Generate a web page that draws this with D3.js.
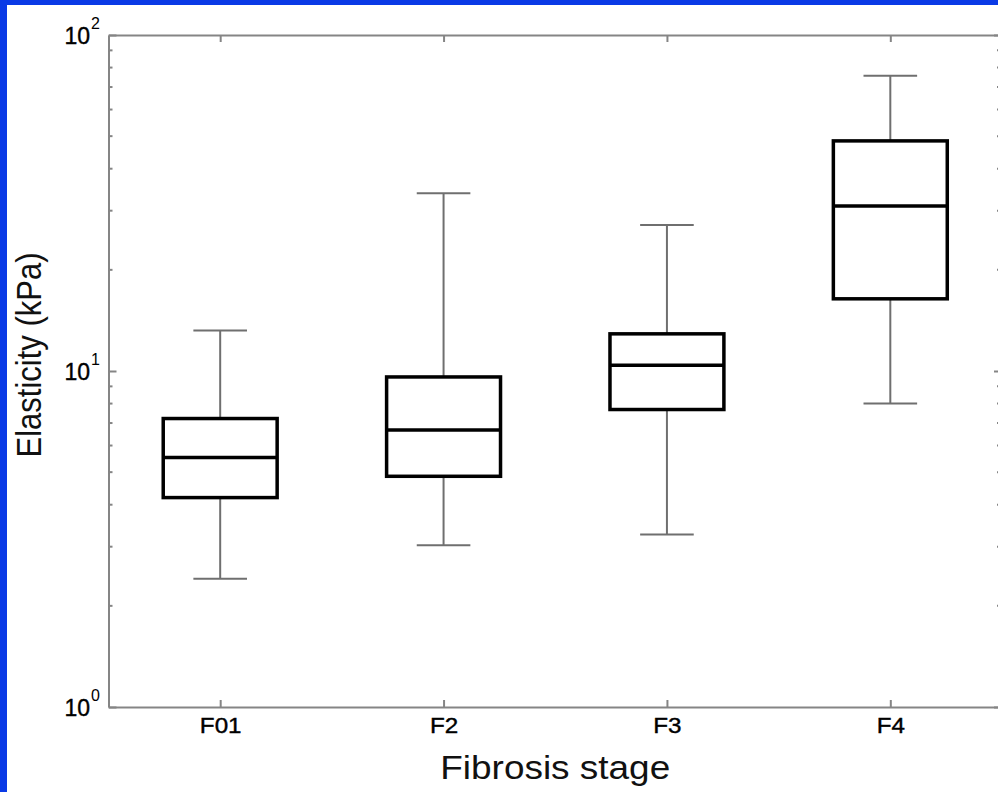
<!DOCTYPE html>
<html lang="en">
<head>
  <meta charset="UTF-8">
  <script src="https://cdn.jsdelivr.net/npm/d3@7"></script>
  <title>Elasticity by fibrosis stage</title>
  <style>
    body { margin: 0; background: #0a3ae6; }
    text { font-family: "Liberation Sans", Arial, sans-serif; fill: #111; }
    .axis path, .axis line { stroke: #858585; stroke-width: 2; }
    .whisker { stroke: #6f6f6f; stroke-width: 2; }
    .box { fill: none; stroke: #000; stroke-width: 3.5; }
    .median { stroke: #000; stroke-width: 3.5; }
    .tk { stroke: #000; stroke-width: 0.4; }
  </style>
</head>
<body>
  <script>
    // values (kPa)
    const stages = ['F01', 'F2', 'F3', 'F4'];
    const lowCap = [2.41, 3.03, 3.26, 8.0];
    const q1 = [4.2, 4.86, 7.68, 16.4];
    const median = [5.53, 6.67, 10.4, 31.0];
    const q3 = [7.22, 9.6, 12.9, 48.4];
    const highCap = [13.2, 33.8, 27.2, 75.6];
    const yTicks = [1, 10, 100];

    const W = 998, H = 792;
    const pLeft = 108.5, pRight = 1002, pTop = 35, pBottom = 707;

    const svg = d3.select('body').append('svg')
      .attr('width', W).attr('height', H)
      .style('display', 'block');

    svg.append('rect').attr('x', 7).attr('y', 5)
      .attr('width', W - 7).attr('height', H - 5).attr('fill', '#fff');

    const x = d3.scalePoint().domain(stages).range([pLeft, pRight]).padding(0.5);
    const y = d3.scaleLog().domain([1, 100]).range([pBottom, pTop]);
    const step = x.step();
    const boxHalf = step * 0.255, capHalf = step * 0.12;

    // minor log ticks 2..9 for each decade
    const minor = [];
    for (let d = 1; d < 100; d *= 10) for (let k = 2; k <= 9; k++) minor.push(d * k);

    // axes: frame
    svg.append('g').attr('class', 'axis').attr('transform', `translate(0,${pBottom})`)
      .call(d3.axisBottom(x).tickSize(-7).tickPadding(10).tickSizeOuter(0))
      .call(g => g.selectAll('text').attr('class', 'tk')
        .style('font-size', '22px').style('fill', '#000')
        .attr('transform', 'scale(1.1,1)'));
    svg.append('g').attr('class', 'axis').attr('transform', `translate(0,${pTop})`)
      .call(d3.axisTop(x).tickSize(-7).tickFormat('').tickSizeOuter(0));

    const yl = svg.append('g').attr('class', 'axis').attr('transform', `translate(${pLeft},0)`)
      .call(d3.axisLeft(y).tickValues(yTicks).tickSize(-8).tickFormat('').tickSizeOuter(0));
    yl.append('g').selectAll('line').data(minor).join('line')
      .attr('x1', 0).attr('x2', 4).attr('y1', d => y(d)).attr('y2', d => y(d));

    const yr = svg.append('g').attr('class', 'axis').attr('transform', `translate(${pRight},0)`)
      .call(d3.axisRight(y).tickValues(yTicks).tickSize(-8).tickFormat('').tickSizeOuter(0));
    yr.append('g').selectAll('line').data(minor).join('line')
      .attr('x1', 0).attr('x2', -5).attr('y1', d => y(d)).attr('y2', d => y(d));

    // y tick labels 10^n
    svg.append('g').selectAll('text').data(yTicks).join('text')
      .attr('class', 'tk')
      .attr('x', 90).attr('y', d => y(d) + 9)
      .attr('text-anchor', 'end').style('font-size', '23px').style('fill', '#000')
      .text('10');
    svg.append('g').selectAll('text').data(yTicks).join('text')
      .attr('x', 91).attr('y', d => y(d) - 6)
      .style('font-size', '16px').style('fill', '#000')
      .text(d => Math.round(Math.log10(d)));

    // boxes
    const g = svg.append('g').selectAll('g').data(stages).join('g')
      .attr('transform', d => `translate(${x(d)},0)`);
    g.append('line').attr('class', 'whisker')
      .attr('y1', (d, i) => y(highCap[i])).attr('y2', (d, i) => y(q3[i]));
    g.append('line').attr('class', 'whisker')
      .attr('y1', (d, i) => y(q1[i])).attr('y2', (d, i) => y(lowCap[i]));
    g.append('line').attr('class', 'whisker')
      .attr('x1', -capHalf).attr('x2', capHalf)
      .attr('y1', (d, i) => y(highCap[i])).attr('y2', (d, i) => y(highCap[i]));
    g.append('line').attr('class', 'whisker')
      .attr('x1', -capHalf).attr('x2', capHalf)
      .attr('y1', (d, i) => y(lowCap[i])).attr('y2', (d, i) => y(lowCap[i]));
    g.append('rect').attr('class', 'box')
      .attr('x', -boxHalf).attr('width', boxHalf * 2)
      .attr('y', (d, i) => y(q3[i])).attr('height', (d, i) => y(q1[i]) - y(q3[i]));
    g.append('line').attr('class', 'median')
      .attr('x1', -boxHalf).attr('x2', boxHalf)
      .attr('y1', (d, i) => y(median[i])).attr('y2', (d, i) => y(median[i]));

    // axis titles
    svg.append('text')
      .attr('transform', `translate(${x('F2') + step / 2},779) scale(1.12,1)`)
      .attr('text-anchor', 'middle').style('font-size', '33px')
      .text('Fibrosis stage');
    svg.append('text')
      .attr('transform', `translate(41,${(pTop + pBottom) / 2 - 16}) rotate(-90) scale(1,1.12)`)
      .attr('text-anchor', 'middle').style('font-size', '31px')
      .text('Elasticity (kPa)');
  </script>
</body>
</html>
